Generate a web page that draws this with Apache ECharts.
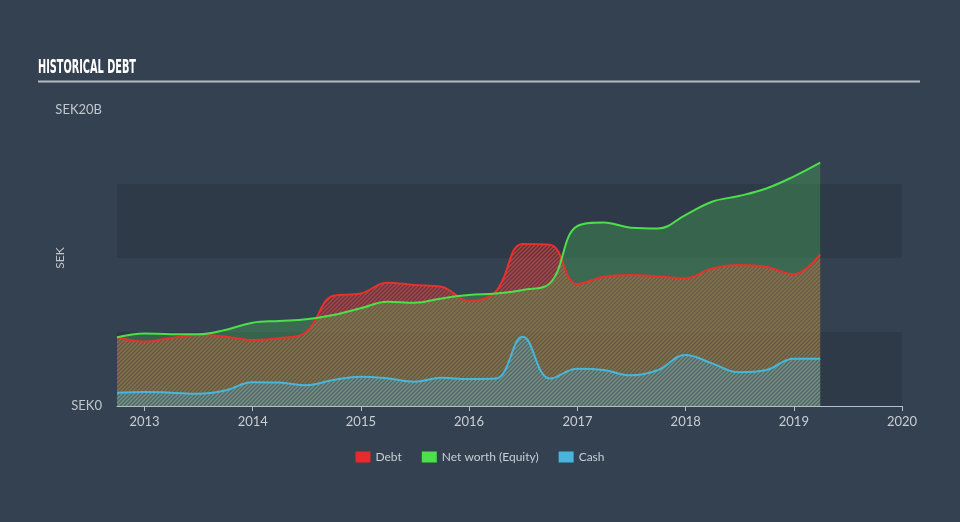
<!DOCTYPE html>
<html>
<head>
<meta charset="utf-8">
<script src="https://cdn.jsdelivr.net/npm/echarts@6/dist/echarts.min.js"></script>
<style>
html,body{margin:0;padding:0;background:#344150;}
#chart{width:960px;height:522px;}
</style>
</head>
<body>
<div id="chart"></div>
<script>
// ---- data (SEK billions) ----
const dates = ['2012-09-30','2012-12-31','2013-03-31','2013-06-30','2013-09-30','2013-12-31',
  '2014-03-31','2014-06-30','2014-09-30','2014-12-31','2015-03-31','2015-06-30','2015-09-30',
  '2015-12-31','2016-03-31','2016-06-30','2016-09-30','2016-12-31','2017-03-31','2017-06-30',
  '2017-09-30','2017-12-31','2018-03-31','2018-06-30','2018-09-30','2018-12-31','2019-03-31'];
const debt = [4.64,4.35,4.6,4.8,4.7,4.46,4.58,5.0,7.45,7.6,8.33,8.18,8.06,7.09,7.72,10.95,10.9,
  8.24,8.74,8.85,8.75,8.63,9.3,9.53,9.41,8.9,10.25];
const equity = [4.64,4.9,4.85,4.85,5.14,5.63,5.75,5.86,6.15,6.6,7.05,6.98,7.27,7.5,7.6,7.84,8.3,
  12.16,12.4,12.05,12.0,12.9,13.8,14.19,14.7,15.5,16.44];
const cash = [0.9,0.95,0.9,0.83,1.05,1.6,1.58,1.4,1.76,1.98,1.87,1.64,1.91,1.82,1.85,4.68,1.85,
  2.52,2.43,2.07,2.43,3.45,2.88,2.28,2.43,3.2,3.2];
const seriesNames = ['Debt','Net worth (Equity)','Cash'];
const yTickLabels = {0:'SEK0', 20:'SEK20B'};
const titleText = 'HISTORICAL DEBT';

function ts(s){ const p=s.split('-').map(Number); return new Date(p[0],p[1]-1,p[2]).getTime(); }
function pairs(vals){ return dates.map((d,i)=>[ts(d), vals[i]]); }

function hatch(stroke, fill, size, lw){
  const c=document.createElement('canvas'); c.width=c.height=size;
  const g=c.getContext('2d');
  if(fill){ g.fillStyle=fill; g.fillRect(0,0,size,size); }
  g.strokeStyle=stroke; g.lineWidth=lw;
  g.beginPath();
  g.moveTo(0,size); g.lineTo(size,0);
  g.moveTo(-size/2,size/2); g.lineTo(size/2,-size/2);
  g.moveTo(size/2,size*1.5); g.lineTo(size*1.5,size/2);
  g.stroke();
  return c;
}

const titleFont = 'bold 19px "Liberation Sans Narrow", "DejaVu Sans Condensed", sans-serif';
const mc=document.createElement('canvas').getContext('2d'); mc.font=titleFont;
const tw = mc.measureText(titleText).width;
const tScale = 98/tw;

const chart = echarts.init(document.getElementById('chart'), null, {renderer:'canvas'});
const option = {
  backgroundColor:'#344150',
  animation:false,
  textStyle:{fontFamily:'Lato, "Noto Sans", sans-serif'},
  graphic:[
    {type:'text', left:38, top:59, scaleX:tScale, style:{text:titleText, font:titleFont, fill:'#ffffff'}},
    {type:'line', shape:{x1:38,y1:81.5,x2:920,y2:81.5}, style:{stroke:'#b4bcc4', lineWidth:2}}
  ],
  grid:{left:117, right:58, top:110, bottom:116},
  legend:{
    top:446, left:'center', icon:'rect', itemWidth:15, itemHeight:11, itemGap:20,
    textStyle:{color:'#c8ced4', fontSize:12, fontFamily:'Lato, sans-serif'},
    data:[
      {name:seriesNames[0], itemStyle:{color:'#e52b2b'}},
      {name:seriesNames[1], itemStyle:{color:'#4de04d'}},
      {name:seriesNames[2], itemStyle:{color:'#4ab5dc'}}
    ]
  },
  xAxis:{
    type:'time', min:ts('2012-09-30'), max:ts('2020-01-01'), splitNumber:7,
    minInterval:365*86400000,
    axisLine:{show:true, lineStyle:{color:'#b6bec6', width:1}},
    axisTick:{show:true, length:5, lineStyle:{color:'#b6bec6'}},
    axisLabel:{color:'#c8ced4', fontSize:13, margin:9, formatter:'{yyyy}', showMinLabel:false, showMaxLabel:true},
    splitLine:{show:false}
  },
  yAxis:{
    type:'value', min:0, max:20, interval:5,
    name:'SEK', nameLocation:'middle', nameGap:51, nameRotate:90, nameMoveOverlap:false,
    nameTextStyle:{color:'#c0c7ce', fontSize:12},
    axisLine:{show:false}, axisTick:{show:false},
    axisLabel:{color:'#c0c7ce', fontSize:13, margin:15, formatter:v=>yTickLabels[v]!==undefined?yTickLabels[v]:''},
    splitLine:{show:false},
    splitArea:{show:true, areaStyle:{color:['#2e3a48','rgba(0,0,0,0)']}}
  },
  series:[
    {name:seriesNames[0], type:'line', data:pairs(debt), smooth:0.4, symbol:'none',
     itemStyle:{color:'#e52b2b'}, lineStyle:{color:'#e8302c', width:2},
     areaStyle:{opacity:1, color:{image:hatch('rgba(232,62,55,0.8)','rgba(230,60,55,0.15)',4,1.3), repeat:'repeat'}}},
    {name:seriesNames[1], type:'line', data:pairs(equity), smooth:0.4, symbol:'none',
     itemStyle:{color:'#4de04d'}, lineStyle:{color:'#4ddf4a', width:2},
     areaStyle:{opacity:1, color:'rgba(75,200,90,0.3)'}},
    {name:seriesNames[2], type:'line', data:pairs(cash), smooth:0.4, symbol:'none',
     itemStyle:{color:'#4ab5dc'}, lineStyle:{color:'#48b6dc', width:2},
     areaStyle:{opacity:1, color:{image:hatch('rgba(74,181,220,0.5)','rgba(74,181,220,0.1)',4,1.3), repeat:'repeat'}}}
  ]
};
chart.setOption(option);
</script>
</body>
</html>
